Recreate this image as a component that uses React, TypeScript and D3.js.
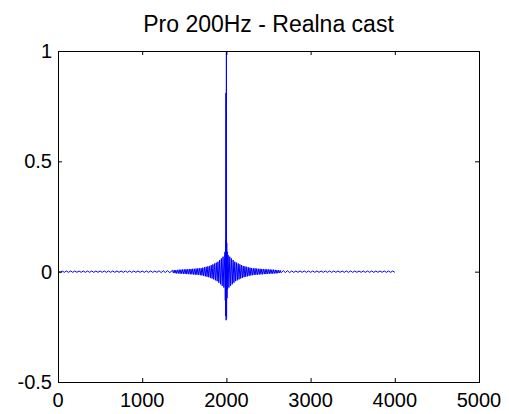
import React from "react";
import { scaleLinear, line } from "d3";

const tailStep = 25;
const leftTailStart = 0;
const leftTail = [
  0.003, -0.003, 0.003, -0.003, 0.003, -0.003, 0.003, -0.003, 0.003, -0.003,
  0.003, -0.003, 0.003, -0.003, 0.003, -0.003, 0.003, -0.003, 0.003, -0.003,
  0.003, -0.003, 0.003, -0.003, 0.003, -0.003, 0.003, -0.003, 0.003, -0.003,
  0.003, -0.003, 0.003, -0.003, 0.003, -0.003, 0.003, -0.003, 0.003, -0.003,
  0.003, -0.003, 0.003, -0.003, 0.003, -0.003, 0.003, -0.003, 0.004, -0.004,
  0.004, -0.004, 0.005, -0.005,
];
const coreStep = 10;
const coreLeftStart = 1360;
const coreLeft = [
  0.006, -0.006, 0.007, -0.007, 0.007, -0.008, 0.008, -0.008, 0.009, -0.009,
  0.009, -0.009, 0.01, -0.01, 0.01,
  -0.01, 0.011, -0.011, 0.011, -0.011, 0.012, -0.012, 0.012, -0.012, 0.013,
  -0.013, 0.013, -0.014, 0.014, -0.014, 0.015, -0.015, 0.015, -0.016, 0.016,
  -0.017, 0.018, -0.019, 0.02, -0.021, 0.022, -0.023, 0.024, -0.025, 0.026,
  -0.028, 0.03, -0.031, 0.033, -0.035, 0.037, -0.039, 0.041, -0.043, 0.045,
  -0.05, 0.053, -0.057, 0.06, -0.064, 0.068, -0.072, 0.075,
];
const spikeX = [1984, 1987, 1990, 1992, 1995, 1997, 2000, 2002, 2004, 2007, 2010, 2014];
const spikeY = [0.09, -0.13, 0.14, -0.2, 0.81, -0.22, 1.0, -0.21, 0.13, -0.12, 0.09, -0.08];
const coreRightStart = 2020;
const coreRight = [
  0.075, -0.072, 0.068, -0.064, 0.06, -0.057, 0.053, -0.05,
  0.045, -0.043, 0.041, -0.039, 0.037, -0.035, 0.033, -0.031, 0.03, -0.028,
  0.026, -0.025, 0.024, -0.023, 0.022, -0.021, 0.02, -0.019, 0.018, -0.017,
  0.016, -0.016, 0.015, -0.015, 0.015, -0.014, 0.014, -0.014, 0.013, -0.013,
  0.013, -0.012, 0.012, -0.012, 0.012, -0.011, 0.011, -0.011, 0.011, -0.01,
  0.01, -0.01, 0.01, -0.009, 0.009, -0.009, 0.009, -0.008, 0.008, -0.008,
  0.007, -0.007, 0.007, -0.006, 0.006,
];
const rightTailStart = 2650;
const rightTail = [
  -0.005, 0.005, -0.004, 0.004, -0.004, 0.003, -0.003, 0.003, -0.003, 0.003,
  -0.003, 0.003, -0.003, 0.003, -0.003, 0.003, -0.003, 0.003, -0.003, 0.003,
  -0.003, 0.003, -0.003, 0.003, -0.003, 0.003, -0.003, 0.003, -0.003, 0.003,
  -0.003, 0.003, -0.003, 0.003, -0.003, 0.003, -0.003, 0.003, -0.003, 0.003,
  -0.003, 0.003, -0.003, 0.003, -0.003, 0.003, -0.003, 0.003, -0.003, 0.003,
  -0.003, 0.003, -0.003, 0.003, -0.003,
];

const xTicks = [0, 1000, 2000, 3000, 4000, 5000];
const yTicks = [-0.5, 0, 0.5, 1];
const title = "Pro 200Hz - Realna cast";

const left = 58;
const right = 479;
const top = 51;
const bottom = 382;

function App() {
  const x = scaleLinear().domain([0, 5000]).range([left, right]);
  const y = scaleLinear().domain([-0.5, 1]).range([bottom, top]);

  const pts: [number, number][] = [];
  leftTail.forEach((v, i) => pts.push([leftTailStart + i * tailStep, v]));
  coreLeft.forEach((v, i) => pts.push([coreLeftStart + i * coreStep, v]));
  spikeX.forEach((s, i) => pts.push([s, spikeY[i]]));
  coreRight.forEach((v, i) => pts.push([coreRightStart + i * coreStep, v]));
  rightTail.forEach((v, i) => pts.push([rightTailStart + i * tailStep, v]));

  const path = line<[number, number]>()
    .x((d) => x(d[0]))
    .y((d) => y(d[1]))(pts);

  const font = "Arial, 'Liberation Sans', sans-serif";

  return (
    <svg width={509} height={414} style={{ position: "absolute", left: 0, top: 0 }}>
      <rect width={509} height={414} fill="#fff" />
      <text x={(left + right) / 2} y={32} textAnchor="middle" fontFamily={font} fontSize={23}>
        {title}
      </text>
      <path d={path ?? ""} fill="none" stroke="#0000ff" strokeWidth={1} />
      <rect x={left + 0.5} y={top + 0.5} width={right - left} height={bottom - top} fill="none" stroke="#000" />
      {xTicks.map((t) => (
        <g key={"x" + t}>
          <line x1={x(t) + 0.5} x2={x(t) + 0.5} y1={bottom} y2={bottom - 4} stroke="#000" />
          <line x1={x(t) + 0.5} x2={x(t) + 0.5} y1={top} y2={top + 4} stroke="#000" />
          <text x={x(t)} y={bottom + 25} textAnchor="middle" fontFamily={font} fontSize={20}>
            {t}
          </text>
        </g>
      ))}
      {yTicks.map((t) => (
        <g key={"y" + t}>
          <line x1={left} x2={left + 4} y1={y(t) + 0.5} y2={y(t) + 0.5} stroke="#000" />
          <line x1={right} x2={right - 4} y1={y(t) + 0.5} y2={y(t) + 0.5} stroke="#000" />
          <text x={left - 6} y={y(t) + 7} textAnchor="end" fontFamily={font} fontSize={20}>
            {t}
          </text>
        </g>
      ))}
    </svg>
  );
}

export default App;
